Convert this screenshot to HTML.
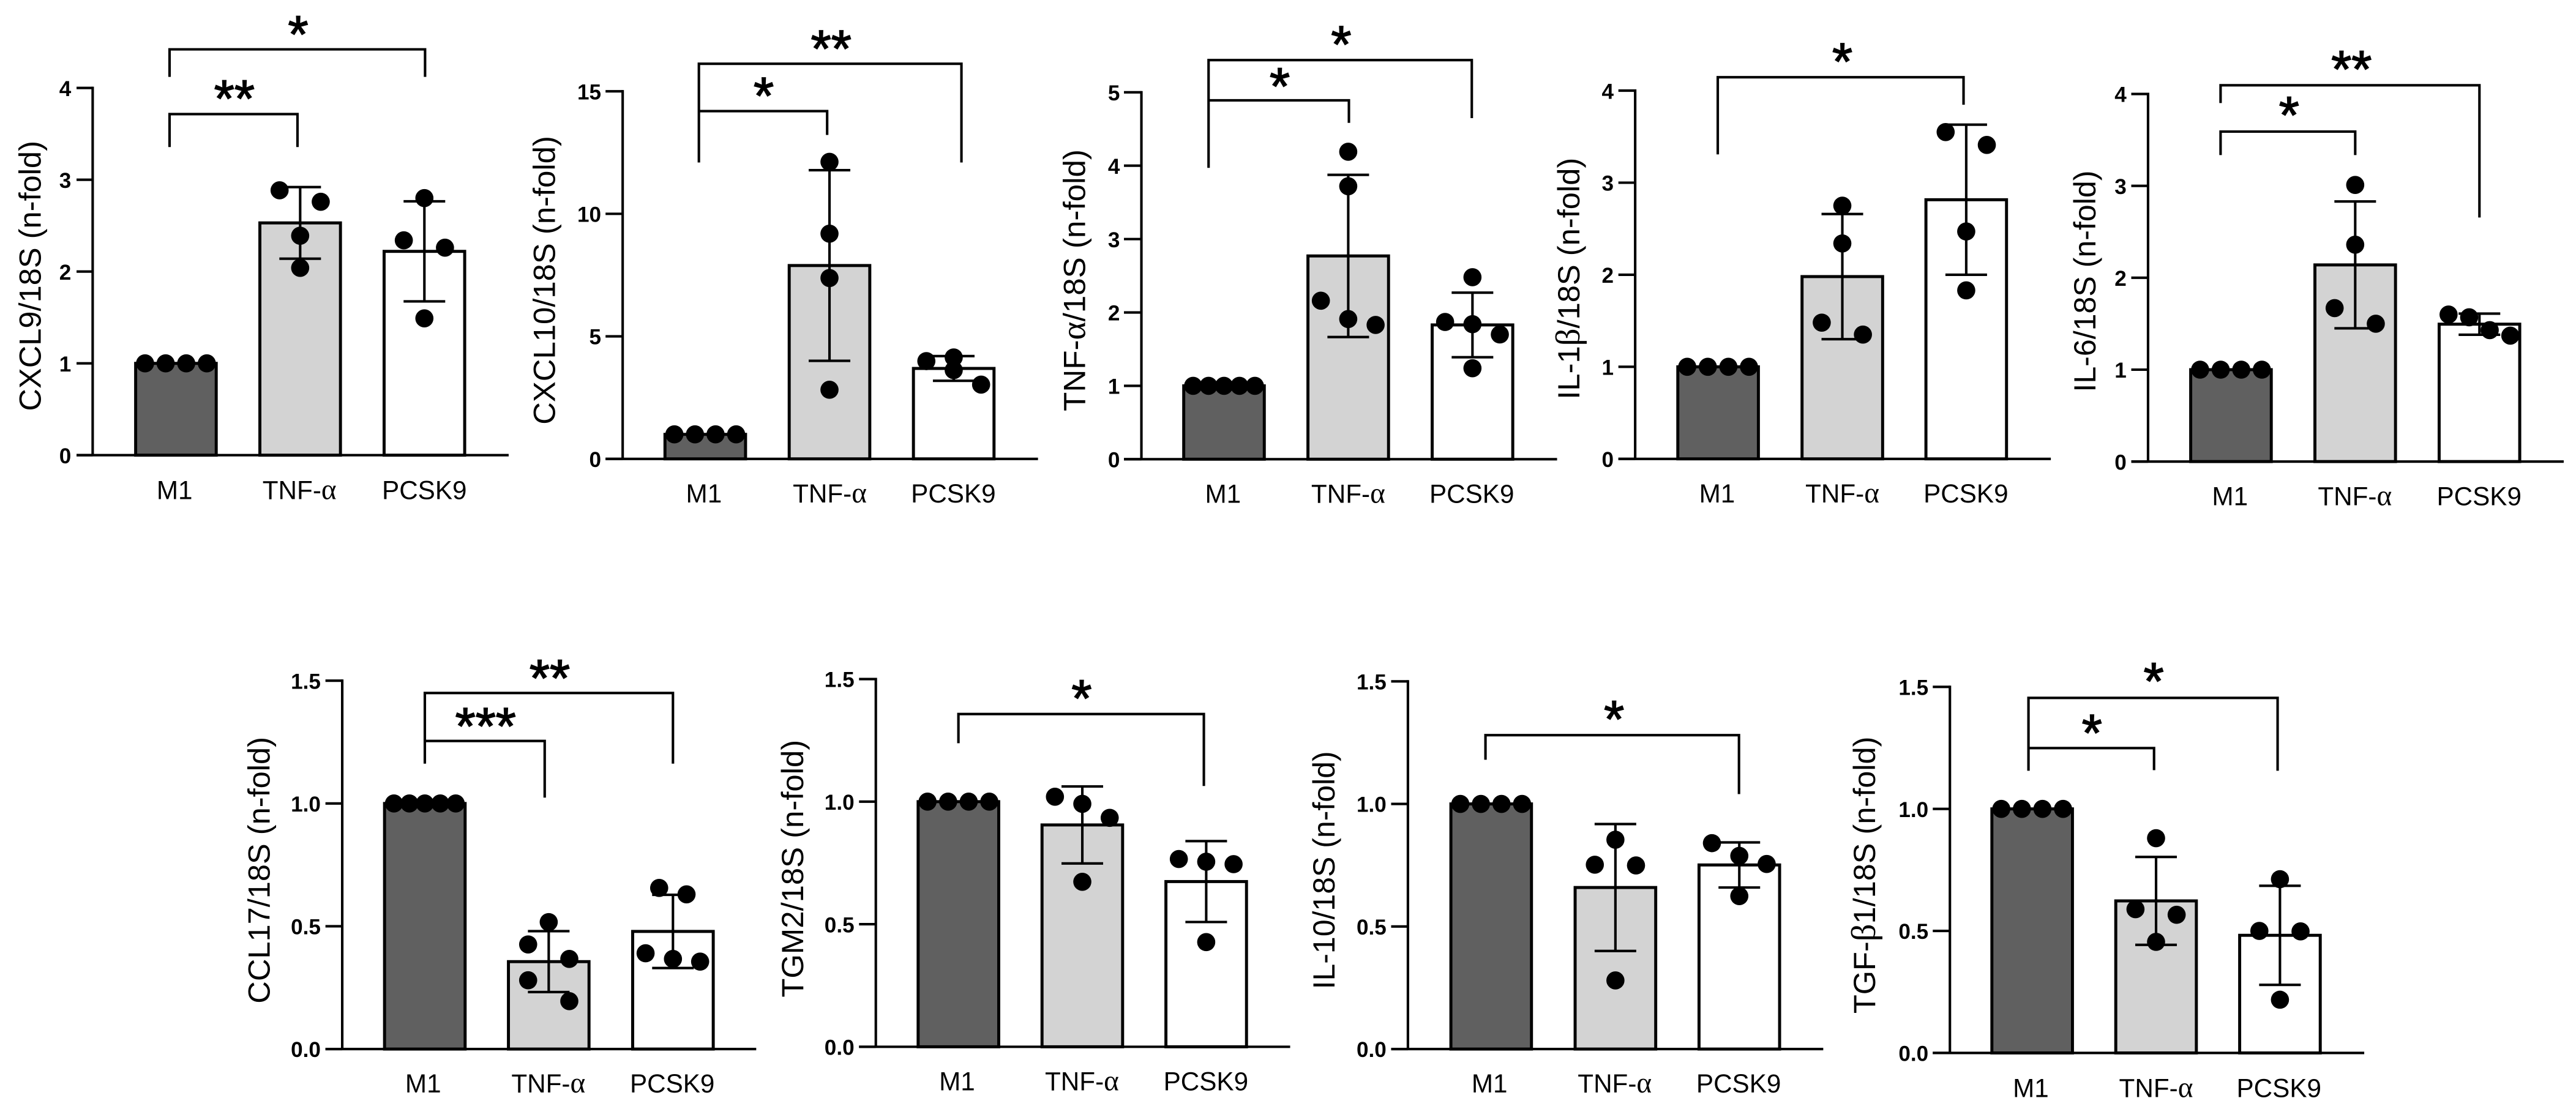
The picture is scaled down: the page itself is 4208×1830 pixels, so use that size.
<!DOCTYPE html>
<html lang="en">
<head>
<meta charset="utf-8">
<title>Relative gene expression bar charts</title>
<style>
  html, body { margin: 0; padding: 0; background: #fff; }
  svg { display: block; }
  text { font-family: "Liberation Sans", Arial, sans-serif; fill: #000; }
</style>
</head>
<body>
<svg id="figure" xmlns="http://www.w3.org/2000/svg" width="4208" height="1830" viewBox="0 0 4208 1830">
  <rect x="0" y="0" width="4208" height="1830" fill="#ffffff"></rect>
</svg>
<script>
/* ---------- shared categories and tick labels ---------- */
const categories = ['M1', 'TNF-α', 'PCSK9'];
const ticksZeroToFour = ['0', '1', '2', '3', '4'];
const ticksZeroToFive = ['0', '1', '2', '3', '4', '5'];
const ticksZeroToFifteen = ['0', '5', '10', '15'];
const ticksFraction = ['0.0', '0.5', '1.0', '1.5'];

/* ---------- CXCL9 ---------- */
const cxcl9Means = [1, 2.53, 2.22];
const cxcl9Sd = [0, 0.39, 0.545];
const cxcl9Points = [[1, 1, 1, 1], [2.885, 2.76, 2.39, 2.04], [2.80, 2.34, 2.26, 1.49]];

/* ---------- CXCL10 ---------- */
const cxcl10Means = [1, 7.89, 3.69];
const cxcl10Sd = [0, 3.89, 0.505];
const cxcl10Points = [[1, 1, 1, 1], [12.12, 9.19, 7.38, 2.82], [3.99, 4.14, 3.62, 3.03]];

/* ---------- TNF-alpha ---------- */
const tnfMeans = [1, 2.77, 1.83];
const tnfSd = [0, 1.105, 0.44];
const tnfPoints = [[1, 1, 1, 1, 1], [4.19, 3.72, 2.16, 1.91, 1.83], [2.48, 1.87, 1.84, 1.70, 1.24]];

/* ---------- IL-1 beta ---------- */
const il1bMeans = [1, 1.98, 2.815];
const il1bSd = [0, 0.68, 0.815];
const il1bPoints = [[1, 1, 1, 1], [2.75, 2.34, 1.48, 1.35], [3.55, 3.41, 2.47, 1.83]];

/* ---------- IL-6 ---------- */
const il6Means = [1, 2.14, 1.495];
const il6Sd = [0, 0.69, 0.115];
const il6Points = [[1, 1, 1, 1], [3.01, 2.36, 1.67, 1.50], [1.60, 1.57, 1.43, 1.37]];

/* ---------- CCL17 ---------- */
const ccl17Means = [1, 0.356, 0.479];
const ccl17Sd = [0, 0.124, 0.149];
const ccl17Points = [[1, 1, 1, 1, 1], [0.517, 0.426, 0.367, 0.28, 0.195], [0.656, 0.63, 0.39, 0.367, 0.356]];

/* ---------- TGM2 ---------- */
const tgm2Means = [1, 0.905, 0.674];
const tgm2Sd = [0, 0.157, 0.165];
const tgm2Points = [[1, 1, 1, 1], [1.02, 0.991, 0.934, 0.673], [0.766, 0.755, 0.745, 0.427]];

/* ---------- IL-10 ---------- */
const il10Means = [1, 0.659, 0.751];
const il10Sd = [0, 0.259, 0.092];
const il10Points = [[1, 1, 1, 1], [0.854, 0.752, 0.749, 0.28], [0.84, 0.788, 0.755, 0.624]];

/* ---------- TGF-beta1 ---------- */
const tgfMeans = [1, 0.623, 0.482];
const tgfSd = [0, 0.18, 0.203];
const tgfPoints = [[1, 1, 1, 1], [0.88, 0.589, 0.566, 0.455], [0.712, 0.50, 0.498, 0.218]];

/* ---------- layout (local panel units, scaled by UNIT; ys squeezes vertical layout of the lower row) ---------- */
const UNIT = 860 / 1568;
const LOWER = 830 / 860;
const FOUR = [-1.5, -0.5, 0.5, 1.5];
const FIVE = [-1.5, -0.75, 0, 0.75, 1.5];

const panels = [
  { ox: 0, oy: 0, ys: 1, title: 'CXCL9/18S (n-fold)', means: cxcl9Means, sd: cxcl9Sd, points: cxcl9Points, ticks: ticksZeroToFour,
    axisX: 276, tickLeft: 228, y0: 1356, yTop: 262, xEnd: 1515, cx: [524, 894, 1264],
    catX: [520, 892, 1264], catY: 1487, labelX: 121, labelY: 822, labelLen: 805,
    slots: [FOUR, [-1, 1, 0, 0], [0, -1, 1, 0]],
    brackets: [[505, 1266, 147, 229, 229], [505, 886, 340, 438, 438]],
    stars: [['*', 888, 82], ['**', 698, 273]] },
  { ox: 840, oy: 0, ys: 1, title: 'CXCL10/18S (n-fold)', means: cxcl10Means, sd: cxcl10Sd, points: cxcl10Points, ticks: ticksZeroToFifteen,
    axisX: 323, tickLeft: 272, y0: 1367, yTop: 272, xEnd: 1560, cx: [569, 939, 1309],
    catX: [565, 940, 1308], catY: 1497, labelX: 121, labelY: 835, labelLen: 860,
    slots: [FOUR, [0, 0, 0, 0], [-1.33, 0, 0, 1.33]],
    brackets: [[550, 1332, 190, 484, 484], [550, 932, 331, 331, 402]],
    stars: [['**', 944, 125], ['*', 743, 265]] },
  { ox: 1700, oy: 0, ys: 1, title: 'TNF-α/18S (n-fold)', means: tnfMeans, sd: tnfSd, points: tnfPoints, ticks: ticksZeroToFive,
    axisX: 300, tickLeft: 248, y0: 1368, yTop: 275, xEnd: 1538, cx: [546, 916, 1286],
    catX: [543, 916, 1284], catY: 1498, labelX: 132, labelY: 835, labelLen: 780,
    slots: [FIVE, [0, 0, -1.33, 0, 1.33], [0, -1.33, 0, 1.33, 0]],
    brackets: [[500, 1284, 179, 500, 352], [500, 918, 299, 299, 366]],
    stars: [['*', 895, 112], ['*', 712, 237]] },
  { ox: 2500, oy: 0, ys: 1, title: 'IL-1β/18S (n-fold)', means: il1bMeans, sd: il1bSd, points: il1bPoints, ticks: ticksZeroToFour,
    axisX: 312, tickLeft: 262, y0: 1367, yTop: 270, xEnd: 1550, cx: [559, 929, 1298],
    catX: [556, 929, 1297], catY: 1497, labelX: 146, labelY: 830, labelLen: 720,
    slots: [FOUR, [0, 0, -1, 1], [-1, 1, 0, 0]],
    brackets: [[558, 1290, 230, 460, 312]],
    stars: [['*', 929, 163]] },
  { ox: 3340, oy: 0, ys: 1, title: 'IL-6/18S (n-fold)', means: il6Means, sd: il6Sd, points: il6Points, ticks: ticksZeroToFour,
    axisX: 308, tickLeft: 258, y0: 1375, yTop: 280, xEnd: 1546, cx: [555, 925, 1295],
    catX: [552, 924, 1294], catY: 1505, labelX: 151, labelY: 838, labelLen: 660,
    slots: [FOUR, [0, 0, -1, 1], FOUR],
    brackets: [[524, 1295, 254, 307, 648], [524, 925, 392, 462, 462]],
    stars: [['**', 914, 186], ['*', 728, 323]] },
  { ox: 400, oy: 1000, ys: LOWER, title: 'CCL17/18S (n-fold)', means: ccl17Means, sd: ccl17Sd, points: ccl17Points, ticks: ticksFraction,
    axisX: 290, tickLeft: 240, y0: 1349, yTop: 212, xEnd: 1523, cx: [536, 905, 1275],
    catX: [531, 904, 1273], catY: 1483, labelX: 74, labelY: 797, labelLen: 823,
    slots: [FIVE, [0, -1, 1, -1, 1], [-0.67, 0.66, -1.33, 0, 1.32]],
    brackets: [[536, 1275, 250, 468, 468], [536, 893, 398, 398, 573]],
    stars: [['**', 908, 183], ['***', 717, 331]] },
  { ox: 1270, oy: 1000, ys: LOWER, title: 'TGM2/18S (n-fold)', means: tgm2Means, sd: tgm2Sd, points: tgm2Points, ticks: ticksFraction,
    axisX: 293, tickLeft: 243, y0: 1342, yTop: 207, xEnd: 1527, cx: [539, 908, 1277],
    catX: [535, 907, 1276], catY: 1476, labelX: 77, labelY: 792, labelLen: 795,
    slots: [FOUR, [-1.33, 0, 1.33, 0], [-1.33, 0, 1.33, 0]],
    brackets: [[539, 1270, 315, 405, 537]],
    stars: [['*', 906, 245]] },
  { ox: 2120, oy: 1000, ys: LOWER, title: 'IL-10/18S (n-fold)', means: il10Means, sd: il10Sd, points: il10Points, ticks: ticksFraction,
    axisX: 328, tickLeft: 278, y0: 1349, yTop: 214, xEnd: 1565, cx: [576, 946, 1315],
    catX: [571, 944, 1313], catY: 1483, labelX: 109, labelY: 797, labelLen: 735,
    slots: [FOUR, [0, -1, 1, 0], [-1.33, 0, 1.33, 0]],
    brackets: [[559, 1314, 380, 456, 562]],
    stars: [['*', 942, 310]] },
  { ox: 2990, oy: 1000, ys: LOWER, title: 'TGF-β1/18S (n-fold)', means: tgfMeans, sd: tgfSd, points: tgfPoints, ticks: ticksFraction,
    axisX: 356, tickLeft: 305, y0: 1361, yTop: 231, xEnd: 1590, cx: [601, 970, 1339],
    catX: [597, 970, 1336], catY: 1497, labelX: 133, labelY: 812, labelLen: 855,
    slots: [FOUR, [0, -1, 1, 0], [0, -1, 1, 0]],
    brackets: [[590, 1332, 265, 490, 490], [590, 964, 420, 420, 488]],
    stars: [['*', 963, 193], ['*', 779, 352]] }
];

const barFills = ['#606060', '#d3d3d3', '#ffffff'];
const BAR_HALF = 120;
const CAP_HALF = 62;
const DOT_STEP = 61.3;
const DOT_R = 27;
const SW = 7.5;

const figure = document.getElementById('figure');
const SVG_NS = 'http://www.w3.org/2000/svg';

function make(parent, tag, attrs) {
  const node = document.createElementNS(SVG_NS, tag);
  for (const k in attrs) node.setAttribute(k, attrs[k]);
  parent.appendChild(node);
  return node;
}

/* Greek letters are drawn in a slightly larger serif face, as in the source figure */
function fillGreek(node, str, size) {
  str.split(/([αβ])/).forEach(function (part) {
    if (!part) return;
    const span = make(node, 'tspan', /[αβ]/.test(part) ? { 'font-family': '"Liberation Serif", serif', 'font-size': size * 1.12 } : {});
    span.textContent = part;
  });
}

function drawLine(parent, x1, y1, x2, y2, width) {
  return make(parent, 'line', { x1: x1, y1: y1, x2: x2, y2: y2, stroke: '#000', 'stroke-width': width });
}

function drawPanel(p) {
  const g = make(figure, 'g', { transform: 'translate(' + p.ox + ' ' + p.oy + ') scale(' + UNIT + ')' });
  
  

  const Y = function (v) { return v * p.ys; };
  const y0 = Y(p.y0);
  const yTop = Y(p.yTop);
  const yMax = parseFloat(p.ticks[p.ticks.length - 1]);
  const yScale = function (v) { return y0 - (v / yMax) * (y0 - yTop); };

  /* bars */
  p.means.forEach(function (m, i) {
    const top = yScale(m);
    const el = make(g, 'rect', { x: p.cx[i] - BAR_HALF, y: top, width: BAR_HALF * 2, height: y0 - top, fill: barFills[i], stroke: '#000', 'stroke-width': 9 });
    
    
  });

  /* y axis line */
  const yAxis = drawLine(g, p.axisX, yTop - SW / 2, p.axisX, y0, SW);
  
  

  /* x axis line */
  const xAxis = drawLine(g, p.tickLeft, y0, p.xEnd, y0, SW);
  
  

  /* ticks and tick labels */
  p.ticks.forEach(function (t) {
    const y = yScale(parseFloat(t));
    const tick = drawLine(g, p.tickLeft, y, p.axisX, y, SW);
    
    
    const lab = make(g, 'text', { x: p.axisX - 64, y: y + 24, 'text-anchor': 'end', 'font-size': 64, 'font-weight': 'bold' });
    lab.textContent = t;
    
    
  });

  /* y axis title */
  const title = make(g, 'text', {
    transform: 'translate(' + p.labelX + ' ' + Y(p.labelY) + ') rotate(-90)',
    x: 0, y: 0, 'text-anchor': 'middle', 'font-size': 92,
    textLength: Y(p.labelLen), lengthAdjust: 'spacingAndGlyphs'
  });
  fillGreek(title, p.title, 92);
  
  

  /* category labels */
  categories.forEach(function (c, i) {
    const lab = make(g, 'text', { x: p.catX[i], y: Y(p.catY), 'text-anchor': 'middle', 'font-size': 77 });
    fillGreek(lab, c, 77);
    
    
  });

  /* error bars */
  p.sd.forEach(function (s, i) {
    if (!s) return;
    const hi = yScale(p.means[i] + s);
    const lo = yScale(p.means[i] - s);
    const stem = drawLine(g, p.cx[i], hi, p.cx[i], lo, SW);
    
    
    const capTop = drawLine(g, p.cx[i] - CAP_HALF, hi, p.cx[i] + CAP_HALF, hi, SW);
    
    
    const capBottom = drawLine(g, p.cx[i] - CAP_HALF, lo, p.cx[i] + CAP_HALF, lo, SW);
    
    
  });

  /* data points */
  p.points.forEach(function (series, i) {
    series.forEach(function (v, j) {
      const dot = make(g, 'circle', { cx: p.cx[i] + p.slots[i][j] * DOT_STEP, cy: yScale(v), r: DOT_R, fill: '#000' });
      
      
    });
  });

  /* significance brackets */
  p.brackets.forEach(function (b) {
    const path = make(g, 'path', {
      d: 'M' + b[0] + ' ' + Y(b[3]) + 'V' + Y(b[2]) + 'H' + b[1] + 'V' + Y(b[4]),
      fill: 'none', stroke: '#000', 'stroke-width': SW
    });
    
    
  });

  /* significance stars */
  p.stars.forEach(function (s) {
    const star = make(g, 'text', { x: s[1], y: Y(s[2]) + 74, 'text-anchor': 'middle', 'font-size': 155, stroke: '#000', 'stroke-width': 3 });
    star.textContent = s[0];
    
    
  });
}

panels.forEach(drawPanel);
</script>
</body>
</html>
